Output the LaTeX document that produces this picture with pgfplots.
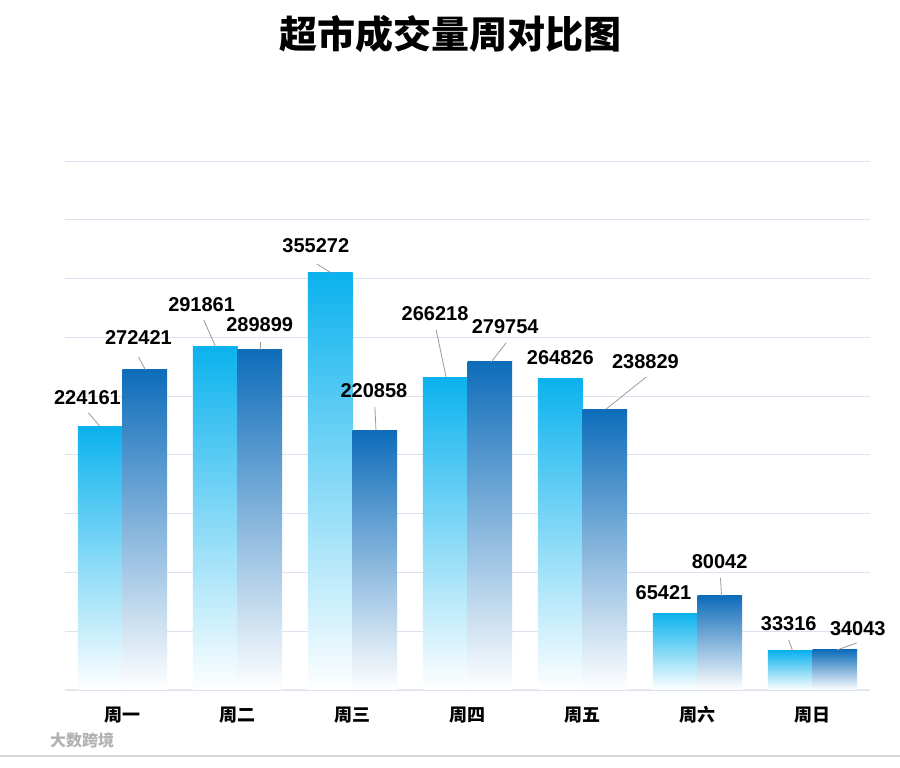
\documentclass[border=0pt]{standalone}
\usepackage{pgfplots}
\pgfplotsset{compat=1.18}
\usepackage{fontspec}
\setmainfont{Liberation Sans}
\newfontfamily\cjk{Noto Sans CJK SC}
\definecolor{cA}{HTML}{0BB2EE}
\definecolor{cB}{HTML}{0E6CBA}
\definecolor{gridc}{HTML}{DCE3F0}
\definecolor{leadc}{HTML}{9A9A9A}
\pgfplotsset{
  barA/.style={ybar, bar width=0.388, bar shift=-0.194, draw=none,
    top color=cA, middle color=cA!60!white, bottom color=white},
  barB/.style={ybar, bar width=0.388, bar shift=0.194, draw=none,
    top color=cB, middle color=cB!60!white, bottom color=white},
  lead/.style={leadc, line width=0.8pt},
}
\begin{document}
\begin{tikzpicture}[x=1pt,y=1pt]
\useasboundingbox (0,0) rectangle (900,768);
\fill[white] (0,0) rectangle (900,768);
\node[font=\cjk\bfseries\fontsize{38}{38}\selectfont, anchor=center] at (450,734) {超市成交量周对比图};
\begin{axis}[
  at={(65pt,78pt)}, anchor=south west,
  scale only axis, width=805pt, height=529pt,
  xmin=-0.5, xmax=6.5, ymin=0, ymax=450000,
  scaled y ticks=false,
  separate axis lines,
  axis x line*=bottom, axis y line*=left,
  y axis line style={draw=none},
  x axis line style={draw=black!8, line width=1pt},
  ytick={0,50000,...,450000}, yticklabels={}, ytick style={draw=none},
  ymajorgrids, grid style={draw=gridc, line width=0.8pt},
  xtick={0,...,6},
  xticklabels={周一,周二,周三,周四,周五,周六,周日},
  xticklabel style={font=\cjk\bfseries\fontsize{18}{18}\selectfont, yshift=-13pt},
  x tick style={draw=none},
  extra x ticks={-0.5,0.5,1.5,2.5,3.5,4.5,5.5,6.5},
  extra x tick labels={},
  extra x tick style={grid=none, tick align=outside, major tick length=8pt, tick style={draw=black!8, line width=0.8pt}},
  clip=false,
]
% series 1 (each bar its own plot, so each bar has its own gradient)
\addplot[barA] coordinates {(0,224161)};
\addplot[barA] coordinates {(1,291861)};
\addplot[barA] coordinates {(2,355272)};
\addplot[barA] coordinates {(3,266218)};
\addplot[barA] coordinates {(4,264826)};
\addplot[barA] coordinates {(5,65421)};
\addplot[barA] coordinates {(6,33316)};
% series 2
\addplot[barB] coordinates {(0,272421)};
\addplot[barB] coordinates {(1,289899)};
\addplot[barB] coordinates {(2,220858)};
\addplot[barB] coordinates {(3,279754)};
\addplot[barB] coordinates {(4,238829)};
\addplot[barB] coordinates {(5,80042)};
\addplot[barB] coordinates {(6,34043)};
% leader lines
\addplot[lead] coordinates {(-0.296,235700) (-0.192,223800)};
\addplot[lead] coordinates {(0.139,283400) (0.200,272300)};
\addplot[lead] coordinates {(0.706,314900) (0.810,291900)};
\addplot[lead] coordinates {(1.202,296100) (1.202,289300)};
\addplot[lead] coordinates {(1.690,362500) (1.812,354900)};
\addplot[lead] coordinates {(2.195,240800) (2.204,221300)};
\addplot[lead] coordinates {(2.727,306400) (2.814,266400)};
\addplot[lead] coordinates {(3.336,295300) (3.206,279100)};
\addplot[lead] coordinates {(4.556,266400) (4.207,239100)};
\addplot[lead] coordinates {(5.200,95300) (5.209,80000)};
\addplot[lead] coordinates {(5.793,42550) (5.828,33200)};
\addplot[lead] coordinates {(6.385,40000) (6.211,34000)};
% value labels
\addplot[draw=none, mark=none, nodes near coords, point meta=explicit symbolic,
  every node near coord/.style={font=\bfseries\fontsize{20}{20}\selectfont, anchor=center, inner sep=0pt, text=black}]
  table[x=x, y=y, meta=lab] {
x y lab
-0.305 248500 224161
0.139 299550 272421
0.688 327600 291861
1.193 310600 289899
1.681 377800 355272
2.186 254400 220858
2.718 320000 266218
3.328 308900 279754
3.807 282500 264826
4.547 279100 238829
4.704 82500 65421
5.192 108900 80042
5.793 56200 33316
6.394 51900 34043
};
\end{axis}
\draw[black!15, line width=1.5pt] (0,12) -- (900,12);
\node[font=\cjk\bfseries\fontsize{16}{16}\selectfont, text=black!30, anchor=center] at (82,28) {大数跨境};
\end{tikzpicture}
\end{document}
